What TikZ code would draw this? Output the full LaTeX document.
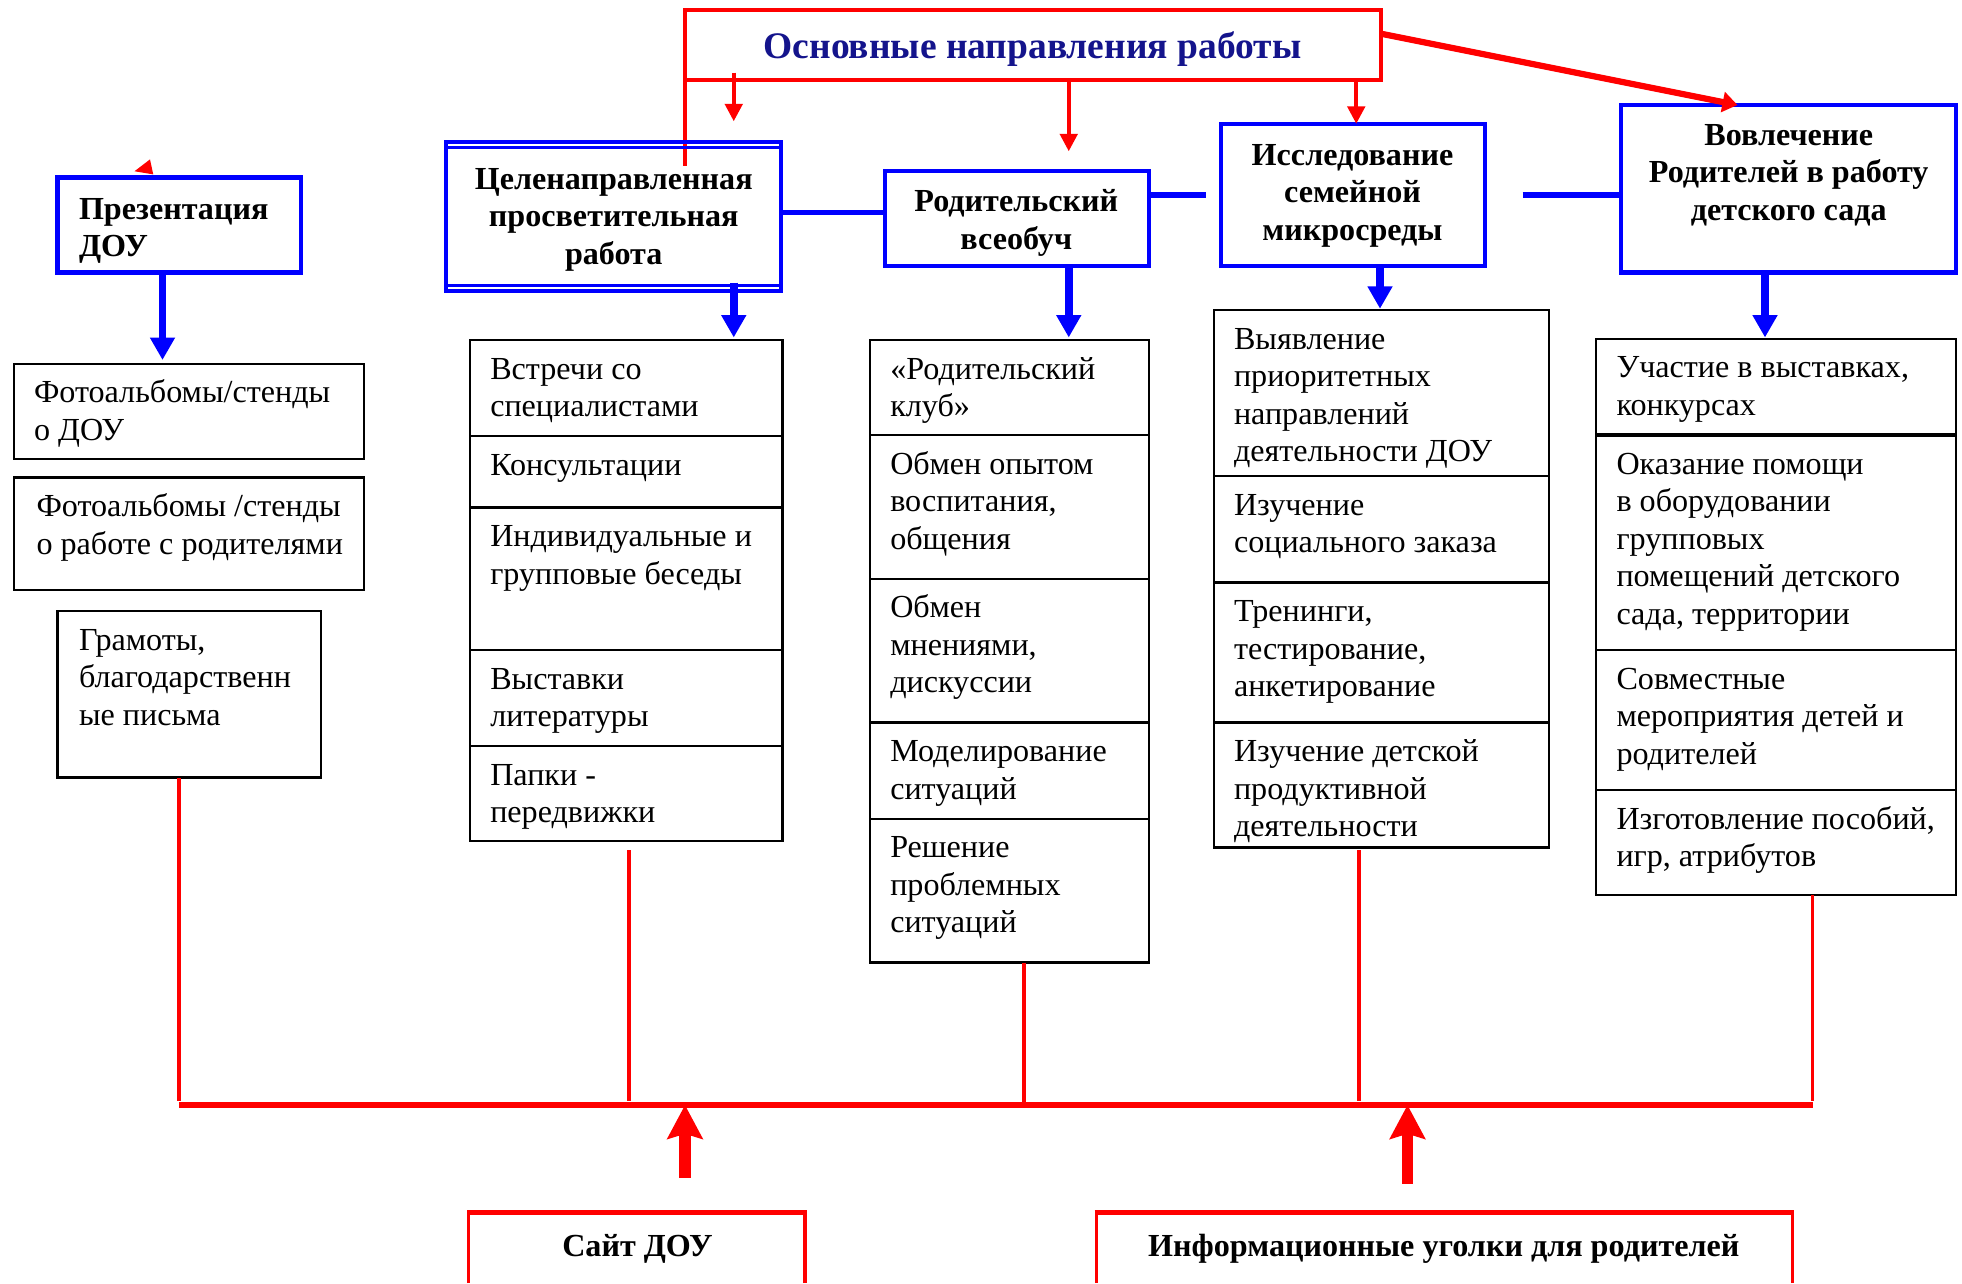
\documentclass[tikz,border=0pt]{standalone}
\usepackage{fontspec}
\setmainfont{Liberation Serif}
\usetikzlibrary{arrows.meta}
\definecolor{titleblue}{RGB}{20,20,140}
\begin{document}
\begin{tikzpicture}[x=1pt,y=-1pt,
  body/.style={font=\fontsize{25.7}{30}\selectfont, align=left, inner sep=0pt, anchor=north west},
  headc/.style={font=\fontsize{25.7}{30}\selectfont\bfseries, align=center, inner sep=0pt, anchor=north},
  headl/.style={font=\fontsize{25.7}{30}\selectfont\bfseries, align=left, inner sep=0pt, anchor=north west},
  cellbox/.style={draw=black, line width=1.8pt, inner sep=0pt, outer sep=0pt, anchor=north west},
  bluebox/.style={draw=blue, line width=3.5pt, inner sep=0pt, outer sep=0pt, anchor=north west},
  divider/.style={draw=black, line width=1.8pt},
  bluelink/.style={draw=blue, line width=4.5pt},
  bluearrow/.style={draw=blue, line width=6pt, -{Triangle[length=18pt,width=19pt]}},
  redline/.style={draw=red, line width=3pt},
  redbus/.style={draw=red, line width=5pt},
  redarrow/.style={draw=red, line width=3pt, -{Triangle[length=14pt,width=14pt]}},
  reddiag/.style={draw=red, line width=5pt, -{Triangle[length=12pt,width=16pt]}},
  redup/.style={draw=red, line width=9pt, -{Stealth[length=27pt,width=28pt,inset=4pt]}}
]
\useasboundingbox (0,0) rectangle (1569.6,1026.4);

% ---------- title ----------
\node[draw=red, line width=3pt, inner sep=0pt, outer sep=0pt, anchor=north west,
      minimum width=557pt, minimum height=56pt] (title) at (548,8) {};
\node[font=\fontsize{30}{36}\selectfont\bfseries, text=titleblue, inner sep=0pt, anchor=base] (titletext) at (826,47) {Основные направления работы};
\coordinate (ext) at (548,133);
\draw[redline] (title.north west) ++(0,13) -- (ext);

% ---------- level 2 boxes ----------
\node[bluebox, minimum width=195pt, minimum height=76pt] (pres) at (46,142) {};
\node[headl] (prestext) at (63,154) {\strut Презентация\\ДОУ};

\node[draw=blue, line width=3pt, inner sep=0pt, outer sep=0pt, anchor=north west,
      minimum width=268pt, minimum height=119.5pt] (cel) at (357,113.5) {};
\draw[blue, line width=2pt] ([yshift=-4.5pt]cel.north west) -- ([yshift=-4.5pt]cel.north east);
\draw[blue, line width=2pt] ([yshift=4.5pt]cel.south west) -- ([yshift=4.5pt]cel.south east);
\node[headc] (celtext) at (491,130) {\strut Целенаправленная\\просветительная\\работа};

\node[bluebox, minimum width=211pt, minimum height=76pt] (rod) at (708,137) {};
\node[headc] (rodtext) at (813,148) {\strut Родительский\\всеобуч};

\node[bluebox, minimum width=211pt, minimum height=114pt] (iss) at (977,99) {};
\node[headc] (isstext) at (1082,111) {\strut Исследование\\семейной\\микросреды};

\node[bluebox, minimum width=268pt, minimum height=134pt] (vov) at (1297,84) {};
\node[headc] (vovtext) at (1431,95) {\strut Вовлечение\\Родителей в работу\\детского сада};

% stray arrow head
\fill[red] (120,127.5) -- (107.6,137) -- (122.6,139.5) -- cycle;

% ---------- red arrows from title ----------
\coordinate (xa) at (587,0);
\coordinate (xb) at (855,0);
\coordinate (xc) at (1085,0);
\coordinate (ea) at (587,97);
\coordinate (eb) at (855,121);
\coordinate (dstart) at (1105,27);
\draw[redarrow] ([yshift=6pt]title.south -| xa) -- (ea);
\draw[redarrow] (title.south -| xb) -- (eb);
\draw[redarrow] (title.south -| xc) -- (iss.north -| xc);
\draw[reddiag] (dstart) -- ([xshift=-41pt]vov.north);

% ---------- blue links ----------
\coordinate (s1) at (965,156);
\coordinate (s2) at (1218,156);
\draw[bluelink] (cel.east |- 0,170) -- (rod.west |- 0,170);
\draw[bluelink] (rod.east |- s1) -- (s1);
\draw[bluelink] (s2) -- (vov.west |- s2);

% ---------- column 1 ----------
\node[cellbox, minimum width=280pt, minimum height=76pt] (b11) at (11,291) {};
\node[body] (t11) at (27,301) {\strut Фотоальбомы/стенды\\о ДОУ};
\node[cellbox, minimum width=280pt, minimum height=90pt] (b12) at (11,382) {};
\node[body] (t12) at (29,392) {\strut Фотоальбомы /стенды\\о работе с родителями};
\node[cellbox, minimum width=211pt, minimum height=133pt] (b13) at (46,489) {};
\node[body] (t13) at (63,499) {\strut Грамоты,\\благодарственн\\ые письма};

% ---------- column 2 ----------
\node[cellbox, minimum width=250pt, minimum height=401pt] (col2) at (376,272) {};
\foreach \yy in {349,406,520,597} \draw[divider] (col2.west |- 0,\yy) -- (col2.east |- 0,\yy);
\node[body] (t21) at (392,282) {\strut Встречи со\\специалистами};
\node[body] (t22) at (392,359) {\strut Консультации};
\node[body] (t23) at (392,416) {\strut Индивидуальные и\\групповые беседы};
\node[body] (t24) at (392,530) {\strut Выставки\\литературы};
\node[body] (t25) at (392,607) {\strut Папки -\\передвижки};

% ---------- column 3 ----------
\node[cellbox, minimum width=223pt, minimum height=498pt] (col3) at (696,272) {};
\foreach \yy in {348,463,578,655} \draw[divider] (col3.west |- 0,\yy) -- (col3.east |- 0,\yy);
\node[body] (t31) at (712,282) {\strut «Родительский\\клуб»};
\node[body] (t32) at (712,358) {\strut Обмен опытом\\воспитания,\\общения};
\node[body] (t33) at (712,473) {\strut Обмен\\мнениями,\\дискуссии};
\node[body] (t34) at (712,588) {\strut Моделирование\\ситуаций};
\node[body] (t35) at (712,665) {\strut Решение\\проблемных\\ситуаций};

% ---------- column 4 ----------
\node[cellbox, minimum width=268pt, minimum height=430pt] (col4) at (971,248) {};
\foreach \yy in {381,466,578} \draw[divider] (col4.west |- 0,\yy) -- (col4.east |- 0,\yy);
\node[body] (t41) at (987,258) {\strut Выявление\\приоритетных\\направлений\\деятельности ДОУ};
\node[body] (t42) at (987,391) {\strut Изучение\\социального заказа};
\node[body] (t43) at (987,476) {\strut Тренинги,\\тестирование,\\анкетирование};
\node[body] (t44) at (987,588) {\strut Изучение детской\\продуктивной\\деятельности};

% ---------- column 5 ----------
\node[cellbox, minimum width=288pt, minimum height=445pt] (col5) at (1277,271) {};
\draw[divider, line width=3pt] (col5.west |- 0,348) -- (col5.east |- 0,348);
\foreach \yy in {520,632} \draw[divider] (col5.west |- 0,\yy) -- (col5.east |- 0,\yy);
\node[body] (t51) at (1293,281) {\strut Участие в выставках,\\конкурсах};
\node[body] (t52) at (1293,358) {\strut Оказание помощи\\в оборудовании\\групповых\\помещений детского\\сада, территории};
\node[body] (t53) at (1293,530) {\strut Совместные\\мероприятия детей и\\родителей};
\node[body] (t54) at (1293,642) {\strut Изготовление пособий,\\игр, атрибутов};

% ---------- blue arrows down ----------
\coordinate (x1) at (130,0);
\coordinate (x2) at (587,0);
\coordinate (x3) at (855,0);
\coordinate (x4) at (1104,0);
\coordinate (x5) at (1412,0);
\draw[bluearrow] (pres.south -| x1) -- ([yshift=3pt]b11.north -| x1);
\draw[bluearrow] ([yshift=7pt]cel.south -| x2) -- ([yshift=2pt]col2.north -| x2);
\draw[bluearrow] (rod.south -| x3) -- ([yshift=2pt]col3.north -| x3);
\draw[bluearrow] (iss.south -| x4) -- ([yshift=1pt]col4.north -| x4);
\draw[bluearrow] (vov.south -| x5) -- ([yshift=1pt]col5.north -| x5);

% ---------- red bus ----------
\coordinate (busL) at (143,884);
\coordinate (busR) at (1450,884);
\coordinate (r1) at (143,881);
\coordinate (r2) at (503,881);
\coordinate (r3) at (819,884);
\coordinate (r4) at (1087,881);
\coordinate (r5) at (1450,881);
\draw[redline] (b13.south -| r1) -- (r1);
\draw[redline] ([yshift=-7pt]col2.south -| r2) -- (r2);
\draw[redline] (col3.south -| r3) -- (r3);
\draw[redline] ([yshift=-2pt]col4.south -| r4) -- (r4);
\draw[redline] (col5.south -| r5) -- (r5);
\draw[redbus] (busL) -- (busR);

% ---------- bottom boxes ----------
\node[font=\fontsize{25.7}{30}\selectfont\bfseries, inner sep=0pt, anchor=base] (site) at (510,1005) {Сайт ДОУ};
\node[font=\fontsize{25.7}{30}\selectfont\bfseries, inner sep=0pt, anchor=base] (info) at (1155,1005) {Информационные уголки для родителей};
\draw[red, line width=2.5pt] (375,1026.4) -- (375,970);
\draw[red, line width=2.5pt] (644,1026.4) -- (644,970);
\draw[red, line width=4pt] (373.75,970) -- (645.25,970);
\draw[red, line width=2.5pt] (877,1026.4) -- (877,970);
\draw[red, line width=2.5pt] (1434,1026.4) -- (1434,970);
\draw[red, line width=4pt] (875.75,970) -- (1435.25,970);

\coordinate (u1) at (548,942);
\coordinate (u2) at (1126,947);
\draw[redup] (u1) -- (u1 |- busL);
\draw[redup] (u2) -- (u2 |- busL);
\end{tikzpicture}
\end{document}
